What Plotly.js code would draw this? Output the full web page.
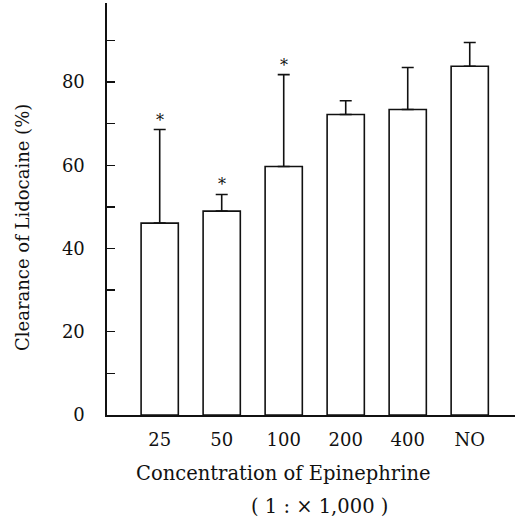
<!DOCTYPE html>
<html>
<head>
<meta charset="utf-8">
<script src="https://cdn.plot.ly/plotly-3.0.1.min.js"></script>
<style>html,body{margin:0;padding:0;background:#fff;}#chart{width:523px;height:519px;}</style>
</head>
<body>
<div id="chart"></div>
<script>
const categories = ["25", "50", "100", "200", "400", "NO"];
const clearance = [46.1, 49.0, 59.7, 72.2, 73.4, 83.8];
const sdUpper = [22.5, 4.0, 22.1, 3.3, 10.1, 5.7];
const significant = [true, true, true, false, false, false];
const yTicks = [0, 20, 40, 60, 80];

const fontFam = "'DejaVu Serif', 'Liberation Serif', serif";

const trace = {
  type: "bar",
  x: categories,
  y: clearance,
  width: 0.6,
  marker: {color: "#ffffff", line: {color: "#111111", width: 1.6}},
  error_y: {type: "data", symmetric: false, array: sdUpper, arrayminus: categories.map(() => 0),
            color: "#111111", thickness: 1.6, width: 6},
  hoverinfo: "skip"
};

const annotations = [];
categories.forEach((c, i) => {
  if (significant[i]) {
    annotations.push({x: i, y: clearance[i] + sdUpper[i], xref: "x", yref: "y", text: "*",
      showarrow: false, yanchor: "bottom", yshift: -2, font: {family: fontFam, size: 16, color: "#111"}});
  }
});
annotations.push({text: "Concentration of Epinephrine", xref: "paper", yref: "paper", x: (283 - 107) / 408, y: -(473 - 415) / 412,
  showarrow: false, xanchor: "center", yanchor: "middle", font: {family: fontFam, size: 19.5, color: "#111"}});
annotations.push({text: "( 1 : × 1,000 )", xref: "paper", yref: "paper", x: (319 - 107) / 408, y: -(507 - 415) / 412,
  showarrow: false, xanchor: "center", yanchor: "middle", font: {family: fontFam, size: 19.5, color: "#111"}});
annotations.push({text: "Clearance of Lidocaine (%)", xref: "paper", yref: "paper", x: -(107 - 22) / 408, y: (415 - 228) / 412,
  textangle: -90, showarrow: false, xanchor: "center", yanchor: "middle", font: {family: fontFam, size: 18, color: "#111"}});

const layout = {
  width: 523, height: 519,
  margin: {l: 107, r: 8, t: 3, b: 104},
  paper_bgcolor: "#ffffff", plot_bgcolor: "#ffffff",
  showlegend: false,
  bargap: 0.4,
  font: {family: fontFam, color: "#111"},
  xaxis: {
    type: "category", range: [-0.85, 5.73],
    showline: true, linecolor: "#111", linewidth: 1.6,
    ticks: "", showgrid: false, zeroline: false,
    ticklabelstandoff: 8,
    tickfont: {family: fontFam, size: 18, color: "#111"}
  },
  yaxis: {
    range: [0, 99],
    showline: true, linecolor: "#111", linewidth: 1.6,
    tickvals: yTicks, ticktext: yTicks.map(String),
    ticks: "inside", ticklen: 8, tickwidth: 1.4, tickcolor: "#111",
    minor: {dtick: 10, tick0: 0, ticks: "inside", ticklen: 8, tickwidth: 1.4, tickcolor: "#111", showgrid: false},
    showgrid: false, zeroline: false,
    ticklabelstandoff: 17,
    tickfont: {family: fontFam, size: 18, color: "#111"}
  },
  annotations: annotations
};

Plotly.newPlot("chart", [trace], layout, {displayModeBar: false, staticPlot: true});
</script>
</body>
</html>
